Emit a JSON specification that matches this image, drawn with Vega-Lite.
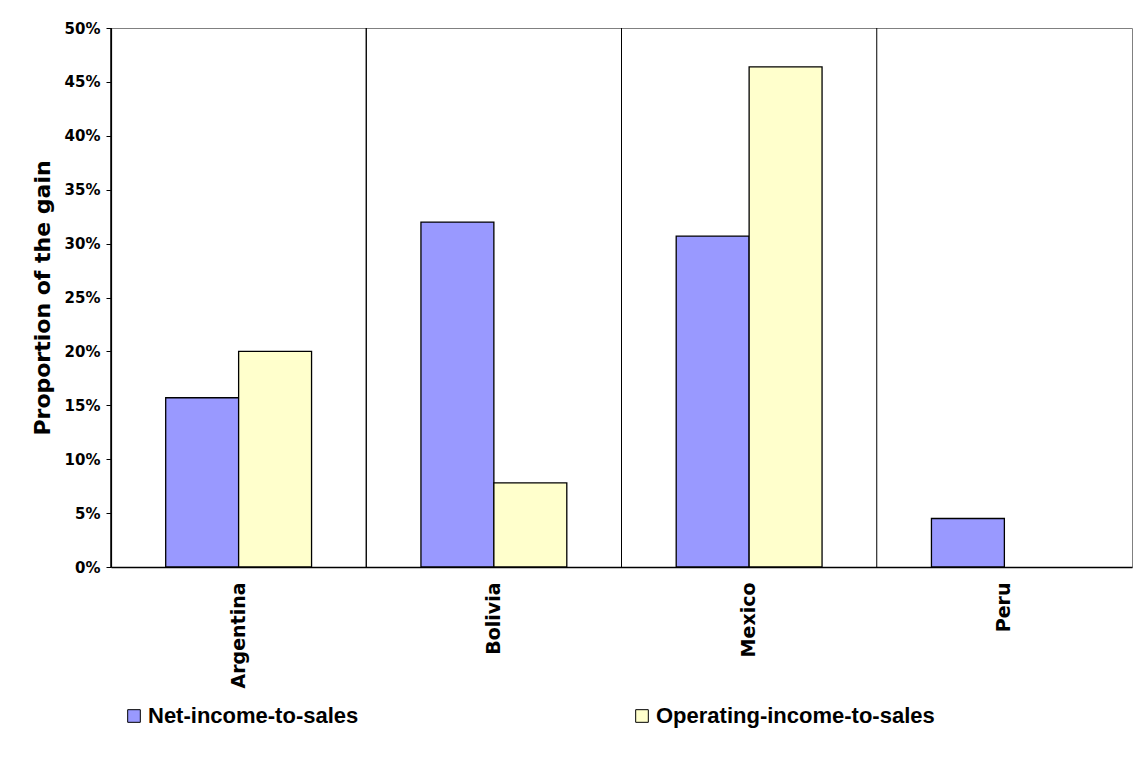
{
  "$schema": "https://vega.github.io/schema/vega-lite/v6.json",
  "width": 1021,
  "height": 539,
  "autosize": {"type": "none"},
  "padding": {"left": 111, "top": 28, "right": 5, "bottom": 210},
  "background": "white",
  "config": {"view": {"stroke": "#808080", "strokeWidth": 1}},
  "data": {
    "values": [
      {"country": "Argentina", "series": "Net-income-to-sales", "value": 0.157},
      {"country": "Argentina", "series": "Operating-income-to-sales", "value": 0.2},
      {"country": "Bolivia", "series": "Net-income-to-sales", "value": 0.32},
      {"country": "Bolivia", "series": "Operating-income-to-sales", "value": 0.078},
      {"country": "Mexico", "series": "Net-income-to-sales", "value": 0.307},
      {"country": "Mexico", "series": "Operating-income-to-sales", "value": 0.464},
      {"country": "Peru", "series": "Net-income-to-sales", "value": 0.045}
    ]
  },
  "layer": [
    {
      "mark": {"type": "bar", "stroke": "#000000", "strokeWidth": 1.3, "opacity": 1},
      "encoding": {
        "x": {
          "field": "country", "type": "nominal",
          "scale": {"paddingInner": 0, "paddingOuter": 0},
          "axis": {
            "title": null, "labelAngle": -90, "labelAlign": "right", "labelBaseline": "middle",
            "labelFont": "DejaVu Sans", "labelFontWeight": "bold", "labelFontSize": 19, "labelColor": "#000000",
            "labelPadding": 15, "ticks": false, "grid": false, "labelOverlap": false,
            "domainColor": "#000000", "domainWidth": 1.5
          }
        },
        "xOffset": {"field": "series", "type": "nominal", "scale": {"paddingInner": 0, "paddingOuter": 0.75}},
        "y": {
          "field": "value", "type": "quantitative",
          "scale": {"domain": [0, 0.5], "nice": false},
          "axis": {
            "title": "Proportion of the gain", "titleFont": "DejaVu Sans", "titleFontWeight": "bold",
            "titleFontSize": 22, "titleColor": "#000000", "titlePadding": 10,
            "values": [0, 0.05, 0.1, 0.15, 0.2, 0.25, 0.3, 0.35, 0.4, 0.45, 0.5],
            "format": ".0%", "grid": false,
            "labelFont": "DejaVu Sans", "labelFontWeight": "bold", "labelFontSize": 15, "labelColor": "#000000",
            "labelPadding": 6, "tickSize": 5, "tickColor": "#000000", "domainColor": "#000000", "domainWidth": 1.2
          }
        },
        "color": {
          "field": "series", "type": "nominal",
          "scale": {"domain": ["Net-income-to-sales", "Operating-income-to-sales"], "range": ["#9999FF", "#FFFFCC"]},
          "legend": {
            "title": null, "orient": "none", "legendX": 12, "legendY": 677, "direction": "horizontal",
            "symbolType": "square", "symbolSize": 160, "symbolStrokeColor": "#000000", "symbolStrokeWidth": 1,
            "symbolOpacity": 1, "labelFont": "Liberation Sans", "labelFontWeight": "bold", "labelFontSize": 22,
            "labelColor": "#000000", "labelOffset": 3, "columnPadding": 272, "labelLimit": 400
          }
        }
      }
    },
    {
      "mark": {"type": "rule", "color": "#000000", "strokeWidth": 1},
      "encoding": {
        "x": {"field": "country", "type": "nominal", "bandPosition": 0}
      }
    }
  ]
}
